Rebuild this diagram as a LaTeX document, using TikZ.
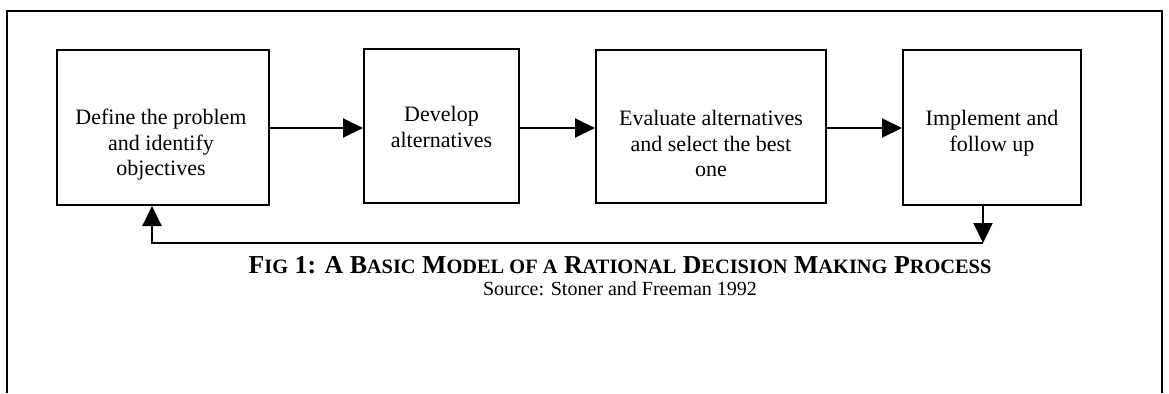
\documentclass[tikz,border=0pt]{standalone}
\usepackage{fontspec}
\setmainfont{Liberation Serif}
\usetikzlibrary{arrows.meta,calc}
\newcommand\fsc[2]{#1{\fontsize{10.2}{11}\selectfont #2}}
\tikzset{
  box/.style={draw, line width=1pt, inner sep=0pt},
  boxtext/.style={anchor=north, align=center, inner sep=0pt, font=\fontsize{11}{12.75}\selectfont},
  flow/.style={line width=1pt, -{Triangle[length=10pt,width=9.5pt]}},
  plain/.style={line width=1pt}
}
\begin{document}
\begin{tikzpicture}[x=0.5pt,y=-0.5pt]
\useasboundingbox (0,0) rectangle (1169,393);
% outer frame (open at bottom)
\draw[line width=0.8pt] (7,393) -- (7,11) -- (1162,11) -- (1162,393);
% boxes
\node[box, minimum width=212*0.5pt, minimum height=155*0.5pt] (b1) at (163,127.5) {};
\node[box, minimum width=155*0.5pt, minimum height=154*0.5pt] (b2) at (441.5,126) {};
\node[box, minimum width=230*0.5pt, minimum height=153*0.5pt] (b3) at (711,126.5) {};
\node[box, minimum width=178*0.5pt, minimum height=155*0.5pt] (b4) at (992,127.5) {};
% box texts
\node[boxtext] (t1) at (161,109) {Define the problem\\and identify\\objectives};
\node[boxtext] (t2) at (441.5,106) {Develop\\alternatives};
\node[boxtext] (t3) at (711,110) {Evaluate alternatives\\and select the best\\one};
\node[boxtext] (t4) at (992,110) {Implement and\\follow up};
% forward arrows
\draw[flow] (b1.east |- 0,128) -- (b2.west |- 0,128);
\draw[flow] (b2.east |- 0,128) -- (b3.west |- 0,128);
\draw[flow] (b3.east |- 0,128) -- (b4.west |- 0,128);
% feedback loop
\coordinate (fbR) at (983,243);
\coordinate (fbL) at (152,243);
\draw[flow] (b4.south -| fbR) -- (fbR);
\draw[flow] (fbR) -- (fbL) -- (fbL |- b1.south);
% caption
\node[inner sep=0pt, anchor=base, font=\bfseries\fontsize{12.9}{14}\selectfont] (cap) at (620,273)
  {\fsc{F}{IG} 1: A \fsc{B}{ASIC} \fsc{M}{ODEL OF A} \fsc{R}{ATIONAL} \fsc{D}{ECISION} \fsc{M}{AKING} \fsc{P}{ROCESS}};
\node[inner sep=0pt, anchor=base, font=\fontsize{10}{12}\selectfont] (src) at (620,295) {Source: Stoner and Freeman 1992};
\end{tikzpicture}
\end{document}
